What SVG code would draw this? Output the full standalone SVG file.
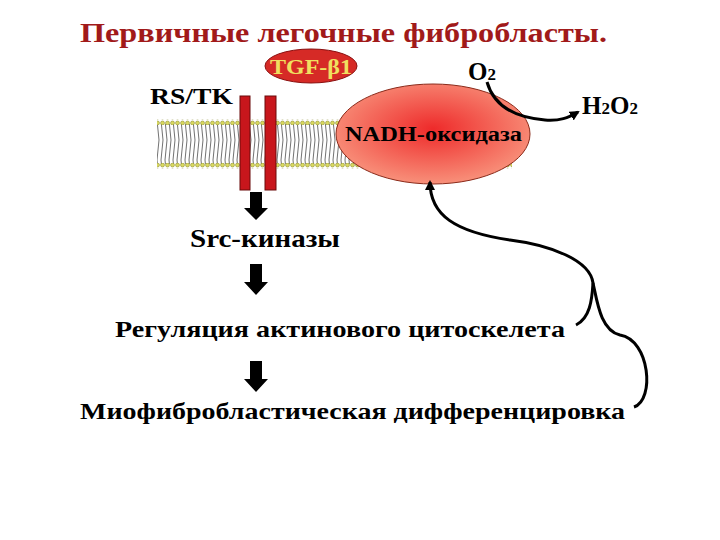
<svg xmlns="http://www.w3.org/2000/svg" width="720" height="540" viewBox="0 0 720 540">
<style>
text{font-family:"Liberation Serif","DejaVu Serif",serif;font-weight:bold;fill:#000}
.c{fill:none;stroke:#000;stroke-width:3}
.bar{fill:#c8161c;stroke:#6a0a0a;stroke-width:1}
</style>
<defs>
<radialGradient id="g" cx="0.5" cy="0.45" r="0.55"><stop offset="0" stop-color="#ee2a2a"/><stop offset="1" stop-color="#f8907a"/></radialGradient>
<pattern id="tails" width="4" height="40" patternUnits="userSpaceOnUse"><path d="M1 0 L3 20 L1 40" fill="none" stroke="#333" stroke-width="0.7"/></pattern>
<pattern id="heads" width="5" height="6" patternUnits="userSpaceOnUse"><circle cx="2.5" cy="3" r="2" fill="#d8d860" stroke="#808020" stroke-width="0.5"/></pattern>
<marker id="ah" markerWidth="10" markerHeight="10" refX="8" refY="5" orient="auto" markerUnits="userSpaceOnUse"><path d="M0 0 L10 5 L0 10 Z" fill="#000"/></marker>
</defs>
<g font-family="Liberation Serif, DejaVu Serif, serif" font-weight="bold">
<text x="80" y="42" font-size="28" textLength="527" lengthAdjust="spacingAndGlyphs" style="fill:#a11a1a">Первичные легочные фибробласты.</text>
<g id="membrane">
<rect x="157" y="124" width="355" height="40" fill="url(#tails)"/>
<rect x="157" y="119" width="355" height="6" fill="url(#heads)"/>
<rect x="157" y="163" width="355" height="6" fill="url(#heads)"/>
</g>
<g id="receptor">
<rect class="bar" x="240" y="96" width="10" height="94"/>
<rect class="bar" x="265" y="96" width="11" height="94"/>
<text x="150" y="104" font-size="24" textLength="83" lengthAdjust="spacingAndGlyphs">RS/TK</text>
</g>
<g id="tgf">
<ellipse cx="311" cy="66" rx="46" ry="17" fill="#d62a26" stroke="#8a1010"/>
<text x="270" y="74" font-size="21" textLength="82" lengthAdjust="spacingAndGlyphs" style="fill:#f0e060">TGF-β1</text>
</g>
<g id="nadh">
<ellipse cx="433" cy="134" rx="97" ry="50" fill="url(#g)" stroke="#8a2a1a" stroke-width="1"/>
<text x="345" y="141" font-size="20" textLength="177" lengthAdjust="spacingAndGlyphs">NADH-оксидаза</text>
</g>
<text x="468" y="80" font-size="25">O<tspan font-size="17">2</tspan></text>
<text x="582" y="114" font-size="25">H<tspan font-size="17">2</tspan>O<tspan font-size="17">2</tspan></text>
<text x="190" y="247" font-size="25" textLength="150" lengthAdjust="spacingAndGlyphs">Src-киназы</text>
<text x="115" y="337" font-size="24" textLength="450" lengthAdjust="spacingAndGlyphs">Регуляция актинового цитоскелета</text>
<text x="80" y="419" font-size="24" textLength="545" lengthAdjust="spacingAndGlyphs">Миофибробластическая дифференцировка</text>
</g>
<g id="connectors">
<path class="c" d="M487 82 C495 110 520 118 545 120 C560 121 568 118 578 112" marker-end="url(#ah)"/>
<path d="M250 192 h12 v16 h6 l-12 12 l-12 -12 h6 z" fill="#000"/>
<path d="M250 264 h12 v18 h6 l-12 13 l-12 -13 h6 z" fill="#000"/>
<path d="M250 361 h12 v18 h6 l-12 13 l-12 -13 h6 z" fill="#000"/>
<path class="c" d="M576 325 C590 318 592 300 593 283 C590 260 550 245 510 240 C455 232 430 215 430 182" marker-end="url(#ah)"/>
<path class="c" d="M593 283 C597 300 600 330 620 335 C650 340 655 400 634 407"/>
</g>
</svg>
